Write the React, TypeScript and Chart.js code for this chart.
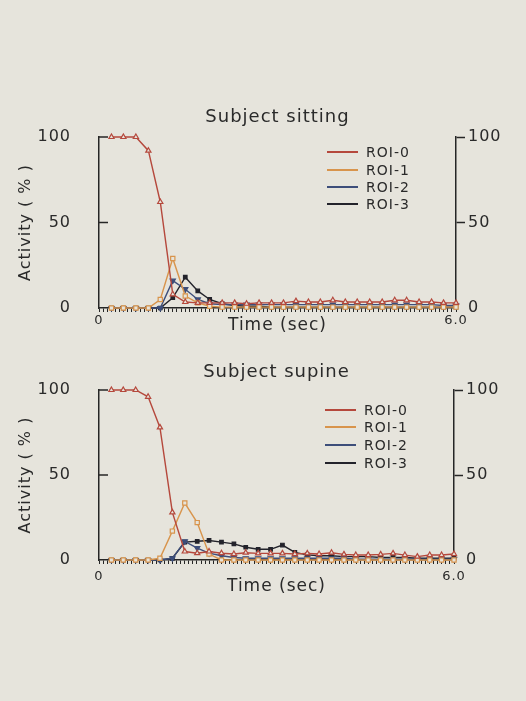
import React, { useEffect, useRef } from 'react';
import { Chart, registerables } from 'chart.js';

Chart.register(...registerables);

// ---- data ----
const TIMES = [0.21, 0.41, 0.62, 0.83, 1.03, 1.24, 1.45, 1.66, 1.86, 2.07, 2.28, 2.48, 2.69, 2.9, 3.1, 3.31, 3.52, 3.72, 3.93, 4.14, 4.34, 4.55, 4.76, 4.97, 5.17, 5.38, 5.59, 5.79, 6.0];
const SERIES_LABELS = ['ROI-0', 'ROI-1', 'ROI-2', 'ROI-3'];

const SIT_ROI0 = [100, 100, 100, 92, 62, 8, 3.5, 3, 3, 3, 3, 2.5, 3, 3, 3, 4, 3.5, 3.5, 4.5, 3.5, 3.5, 3.5, 3.5, 4.5, 4.5, 3.5, 3.5, 3, 3];
const SIT_ROI1 = [0, 0, 0, 0, 5, 29, 7, 3, 1, 0.5, 0.5, 0.5, 0.5, 0.5, 0.5, 0.5, 0.5, 0.5, 0.5, 0.5, 0.5, 0.5, 0.5, 0.5, 0.5, 0.5, 0.5, 0.5, 0.5];
const SIT_ROI2 = [0, 0, 0, 0, 0, 16, 11, 5, 2.5, 2, 2, 2, 2, 2, 2, 2, 2, 2, 2, 2, 2, 2, 2, 2, 2, 2, 2, 1.5, 1.5];
const SIT_ROI3 = [0, 0, 0, 0, 0, 6, 18, 10, 5, 2.5, 1.5, 1, 1, 0.5, 0.5, 0.5, 0.5, 0.5, 0.5, 0.5, 0.5, 0.5, 0.5, 0.5, 0.5, 0.5, 0.5, 0.5, 0.5];

const SUP_ROI0 = [100, 100, 100, 96, 78, 28, 5, 4, 5, 4, 3.5, 4.3, 3.9, 3.9, 3.9, 3.5, 3.9, 3.5, 4.3, 3.3, 2.9, 2.9, 3.3, 3.9, 2.9, 2, 2.9, 2.9, 3.5];
const SUP_ROI1 = [0, 0, 0, 0, 1, 17, 33.5, 22, 3.5, 0, 0, 0, 0, 0, 0, 0, 0, 0, 0, 0, 0, 0, 0, 0, 0, 0, 0, 0, 0];
const SUP_ROI2 = [0, 0, 0, 0, 0, 1, 11, 7, 4, 2.5, 1.5, 1, 1, 1, 1, 1, 1, 1, 1, 1, 0.5, 0.5, 0.5, 0.5, 0.5, 0.5, 0.5, 0.5, 0.5];
const SUP_ROI3 = [0, 0, 0, 0, 0, 1, 10.5, 11, 11.5, 10.5, 9.5, 7.5, 6.3, 6.3, 8.8, 4.5, 3, 2.5, 2.5, 2, 2, 2, 1.5, 1.5, 1.5, 1, 1, 1, 1];

const Y_TICKS = [0, 50, 100];
const X_LABEL_FIRST = '0';
const X_LABEL_LAST = '6.0';
const X_MINOR_COUNT = 87;

// ---- styles ----
const BG = '#e6e4dc';
const INK = '#2a2a2a';
const AXIS = '#262626';
const COLORS = ['#b5483c', '#d8944c', '#3d4e7a', '#23232b'];
const POINT_STYLES = ['triangle', 'rect', 'triangle', 'rect'];
const POINT_ROT = [0, 0, 180, 0];
const POINT_RADIUS = [3, 3, 3, 2.5];
const POINT_FILLED = [false, false, true, true];
const FONT = '"DejaVu Sans", sans-serif';

Chart.defaults.font.family = FONT;
Chart.defaults.color = INK;

const spacingPlugin = {
  id: 'spacing',
  beforeLayout(chart: any) { chart.ctx.letterSpacing = '1px'; },
  beforeDraw(chart: any) { chart.ctx.letterSpacing = '1px'; },
};

const innerTicksPlugin = {
  id: 'innerTicks',
  afterDraw(chart: any) {
    const y = chart.scales.y;
    const ctx = chart.ctx;
    const left = chart.chartArea.left;
    ctx.save();
    ctx.strokeStyle = AXIS;
    ctx.lineWidth = 1.5;
    y.ticks.forEach((t: any) => {
      if (t.value === 0) return;
      const py = y.getPixelForValue(t.value);
      ctx.beginPath();
      ctx.moveTo(left, py);
      ctx.lineTo(left + 9, py);
      ctx.stroke();
    });
    ctx.restore();
  },
};

type Layout = { rightWidth: number; padTop: number; padBottom: number; xTickPad: number; xTitlePad: number };

function buildConfig(title: string, series: number[][], lay: Layout): any {
  const minor: number[] = [];
  for (let i = 0; i <= X_MINOR_COUNT; i++) minor.push((i * 6) / X_MINOR_COUNT);
  const datasets = series.map((vals, i) => ({
    label: SERIES_LABELS[i],
    data: TIMES.map((t, j) => ({ x: t, y: vals[j] })),
    borderColor: COLORS[i],
    backgroundColor: COLORS[i],
    borderWidth: 1.4,
    pointStyle: POINT_STYLES[i],
    pointRotation: POINT_ROT[i],
    pointRadius: POINT_RADIUS[i],
    pointBorderWidth: 1.2,
    pointBorderColor: COLORS[i],
    pointBackgroundColor: POINT_FILLED[i] ? COLORS[i] : BG,
    tension: 0,
    clip: false,
  }));
  const yCommon = {
    type: 'linear',
    min: 0,
    max: 100,
    afterBuildTicks: (s: any) => { s.ticks = Y_TICKS.map((v) => ({ value: v })); },
    ticks: { font: { size: 16 }, color: INK },
  };
  return {
    type: 'line',
    data: { datasets },
    options: {
      animation: false,
      responsive: false,
      devicePixelRatio: 1,
      layout: { padding: 0 },
      plugins: {
        legend: { display: false },
        tooltip: { enabled: false },
        title: {
          display: true,
          text: title,
          fullSize: false,
          color: INK,
          font: { size: 18, weight: 'normal', lineHeight: 1.2 },
          padding: { top: lay.padTop, bottom: lay.padBottom },
        },
      },
      scales: {
        x: {
          type: 'linear',
          min: 0,
          max: 6,
          afterBuildTicks: (s: any) => { s.ticks = minor.map((v) => ({ value: v })); },
          afterFit: (s: any) => { s.height = 38; },
          ticks: {
            autoSkip: false,
            maxRotation: 0,
            padding: lay.xTickPad,
            font: { size: 13 },
            color: INK,
            callback: (_v: any, i: number, arr: any[]) => (i === 0 ? X_LABEL_FIRST : i === arr.length - 1 ? X_LABEL_LAST : ''),
          },
          grid: { drawOnChartArea: false, drawTicks: true, tickLength: 4, tickColor: AXIS, tickWidth: 1 },
          border: { color: AXIS, width: 1.5 },
          title: { display: true, text: 'Time (sec)', color: INK, font: { size: 17 }, padding: { top: 0, bottom: lay.xTitlePad } },
        },
        y: {
          ...yCommon,
          position: 'left',
          afterFit: (s: any) => { s.width = 99; },
          ticks: { ...yCommon.ticks, padding: 28 },
          grid: { drawOnChartArea: false, drawTicks: false },
          border: { color: AXIS, width: 1.5 },
          title: { display: true, text: 'Activity ( % )', color: INK, font: { size: 16 }, padding: { top: 16, bottom: 0 } },
        },
        y2: {
          ...yCommon,
          position: 'right',
          afterFit: (s: any) => { s.width = lay.rightWidth; },
          ticks: { ...yCommon.ticks, padding: 3 },
          grid: {
            drawOnChartArea: false,
            drawTicks: true,
            tickLength: 9,
            tickWidth: 1.5,
            tickColor: (c: any) => (c.tick && c.tick.value === 0 ? 'rgba(0,0,0,0)' : AXIS),
          },
          border: { color: AXIS, width: 1.5 },
        },
      },
    },
    plugins: [spacingPlugin, innerTicksPlugin],
  };
}

function Panel(props: { title: string; series: number[][]; top: number; height: number; lay: Layout }) {
  const ref = useRef<HTMLCanvasElement | null>(null);
  useEffect(() => {
    if (!ref.current) return;
    const chart = new Chart(ref.current, buildConfig(props.title, props.series, props.lay));
    return () => chart.destroy();
  }, []);
  return (
    <canvas
      ref={ref}
      width={526}
      height={props.height}
      style={{ position: 'absolute', left: 0, top: props.top, width: 526, height: props.height, display: 'block' }}
    />
  );
}

function Legend(props: { left: number; rows: number[] }) {
  return (
    <div style={{ position: 'absolute', left: props.left, top: 0 }}>
      {SERIES_LABELS.map((lab, i) => (
        <div key={lab} style={{ position: 'absolute', left: 0, top: props.rows[i], height: 0 }}>
          <div style={{ position: 'absolute', left: 0, top: -1, width: 31, height: 2, background: COLORS[i] }} />
          <span
            style={{
              position: 'absolute',
              left: 39,
              top: -9,
              font: `14px ${FONT}`,
              lineHeight: '18px',
              letterSpacing: '1px',
              color: INK,
              whiteSpace: 'nowrap',
            }}
          >
            {lab}
          </span>
        </div>
      ))}
    </div>
  );
}

export default function App() {
  return (
    <div style={{ position: 'absolute', left: 0, top: 0, width: 526, height: 701, background: BG, overflow: 'hidden' }}>
      <Panel
        title="Subject sitting"
        series={[SIT_ROI0, SIT_ROI1, SIT_ROI2, SIT_ROI3]}
        top={95}
        height={251}
        lay={{ rightWidth: 70, padTop: 12, padBottom: 8.4, xTickPad: 1, xTitlePad: 10 }}
      />
      <Panel
        title="Subject supine"
        series={[SUP_ROI0, SUP_ROI1, SUP_ROI2, SUP_ROI3]}
        top={350}
        height={248}
        lay={{ rightWidth: 72, padTop: 12, padBottom: 6.4, xTickPad: 5, xTitlePad: 1 }}
      />
      <Legend left={327} rows={[152, 170, 187, 204]} />
      <Legend left={325} rows={[410, 427, 445, 463]} />
    </div>
  );
}
